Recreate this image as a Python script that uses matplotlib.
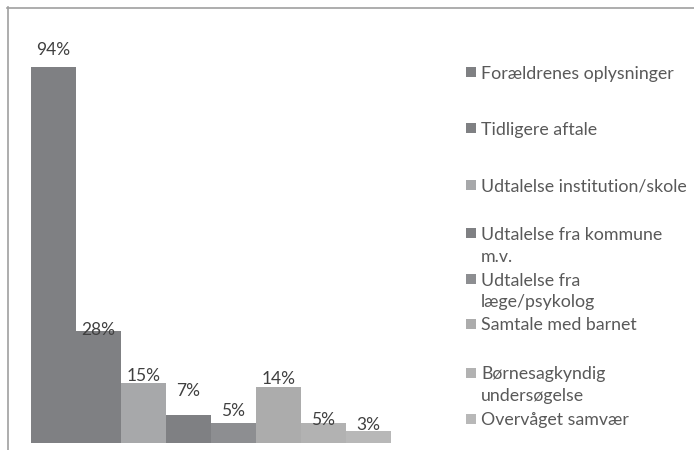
import matplotlib
matplotlib.use("Agg")
import matplotlib.pyplot as plt
from matplotlib.patches import Rectangle
from matplotlib.lines import Line2D

categories = [
    "Forældrenes oplysninger",
    "Tidligere aftale",
    "Udtalelse institution/skole",
    "Udtalelse fra kommune\nm.v.",
    "Udtalelse fra\nlæge/psykolog",
    "Samtale med barnet",
    "Børnesagkyndig\nundersøgelse",
    "Overvåget samvær",
]
values = [94, 28, 15, 7, 5, 14, 5, 3]
value_labels = ["94%", "28%", "15%", "7%", "5%", "14%", "5%", "3%"]

colors = ["#7f8083", "#7f8083", "#a7a8aa", "#7f8083", "#8d8e91", "#acacac", "#b2b2b2", "#b8b8b8"]
label_gap_px = [12, -4, 2, 19, 7, 3, -2, 1]
legend_y_px = [72, 128, 185, 233, 279, 324, 373, 419]
LINE_STEP_PX = 22

FONT = "Lato"
W, H = 694, 450
fig = plt.figure(figsize=(W / 100, H / 100), dpi=100)

# axes: bars from x=31 to 391 px, baseline y=443, 4 px per unit
ax = fig.add_axes([31 / W, (H - 443) / H, 360 / W, 400 / H])
x = list(range(len(values)))
ax.bar(x, values, width=1.0, color=colors, edgecolor="none")
ax.set_xlim(-0.5, len(values) - 0.5)
ax.set_ylim(0, 100)
ax.axis("off")

for xi, v, lab, gap in zip(x, values, value_labels, label_gap_px):
    ax.annotate(lab, (xi, v), xytext=(0, gap * 0.72), textcoords="offset points",
                ha="center", va="baseline", fontsize=12.5, color="#404040", family=FONT)

# legend drawn manually
for i, (cat, yp) in enumerate(zip(categories, legend_y_px)):
    sq = Rectangle((466 / W, 1 - (yp + 5) / H), 10 / W, 10 / H, transform=fig.transFigure,
                   facecolor=colors[i], edgecolor="none")
    fig.add_artist(sq)
    for k, line in enumerate(cat.split("\n")):
        fig.text(481 / W, 1 - (yp + k * LINE_STEP_PX) / H, line, ha="left",
                 va="center_baseline", fontsize=12.8, color="#595959", family=FONT)

# frame lines (top and left)
fig.add_artist(Line2D([7.5 / W, 7.5 / W], [0, 1 - 7 / H], transform=fig.transFigure,
                      color="#a0a0a0", lw=1.2))
fig.add_artist(Line2D([7 / W, 1], [1 - 7.5 / H, 1 - 7.5 / H], transform=fig.transFigure,
                      color="#a0a0a0", lw=1.2))

fig.savefig("out.png", dpi=100)
